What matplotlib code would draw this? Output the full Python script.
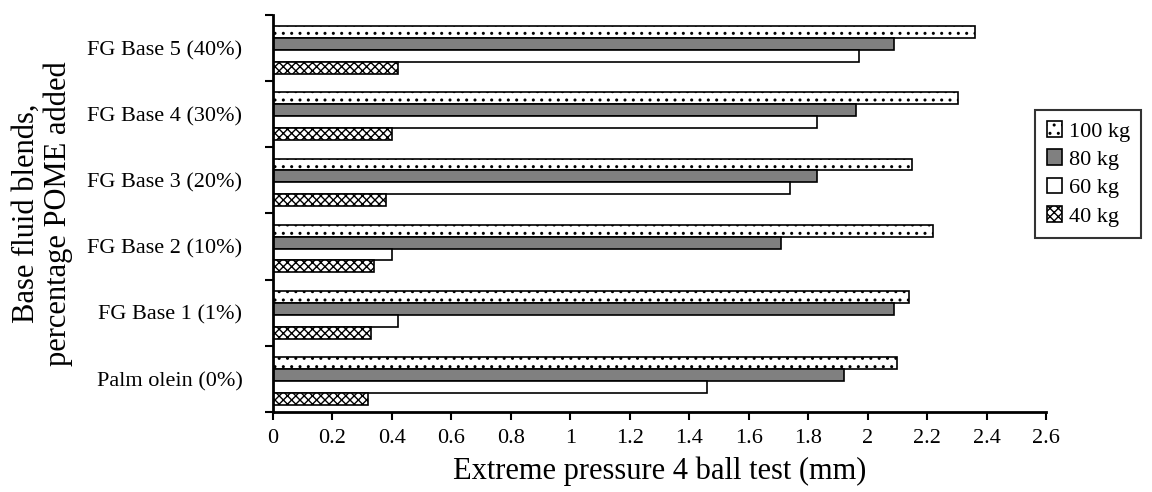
import numpy as np
import matplotlib.pyplot as plt
import matplotlib as mpl

plt.rcParams['font.family'] = ['Liberation Serif', 'DejaVu Serif']
mpl.rcParams['hatch.linewidth'] = 1.0

categories = ["Palm olein (0%)", "FG Base 1 (1%)", "FG Base 2 (10%)",
              "FG Base 3 (20%)", "FG Base 4 (30%)", "FG Base 5 (40%)"]
loads = ["100 kg", "80 kg", "60 kg", "40 kg"]
kg100 = [2.10, 2.14, 2.22, 2.15, 2.305, 2.36]
kg80 = [1.92, 2.09, 1.71, 1.83, 1.96, 2.09]
kg60 = [1.46, 0.42, 0.40, 1.74, 1.83, 1.97]
kg40 = [0.32, 0.33, 0.34, 0.38, 0.40, 0.42]
xticks = [0, 0.2, 0.4, 0.6, 0.8, 1, 1.2, 1.4, 1.6, 1.8, 2, 2.2, 2.4, 2.6]

fig = plt.figure(figsize=(11.52, 4.92), dpi=100)
ax = fig.add_axes([0.237, 0.1626, 0.671, 0.807])

y = np.arange(len(categories))
h = 0.18
styles = [dict(facecolor="white", hatch=". ."),
          dict(facecolor="#808080"),
          dict(facecolor="white"),
          dict(facecolor="white", hatch="xxxx")]
series = [kg100, kg80, kg60, kg40]
for i, (vals, st, lab) in enumerate(zip(series, styles, loads)):
    off = (1.5 - i) * h - 0.03
    ax.barh(y + off, vals, height=h, edgecolor="black", linewidth=1.2,
            label=lab, **st)

ax.set_xlim(0, 2.6)
ax.set_ylim(-0.5, len(categories) - 0.5)
ax.set_xticks(xticks)
ax.set_xticklabels([f"{t:g}" for t in xticks], fontsize=16)
ax.set_yticks(y)
ax.set_yticklabels(categories, fontsize=16)
ax.tick_params(axis="y", which="major", length=0, pad=22)
ax.set_yticks(np.arange(-0.5, len(categories)), minor=True)
ax.tick_params(axis="y", which="minor", length=6, width=1.5)
ax.tick_params(axis="x", length=6, width=1.5, pad=6)
for s in ["top", "right"]:
    ax.spines[s].set_visible(False)
for s in ["left", "bottom"]:
    ax.spines[s].set_linewidth(2)

ax.set_xlabel("Extreme pressure 4 ball test (mm)", fontsize=22, labelpad=6)
ax.set_ylabel("Base fluid blends,\npercentage POME added", fontsize=22,
              labelpad=10, linespacing=1.15)

leg = ax.legend(loc="center left", bbox_to_anchor=(0.972, 0.6), fontsize=16,
                frameon=True, fancybox=False, edgecolor="black",
                handlelength=0.7, handleheight=0.7, handletextpad=0.3,
                borderpad=0.5, labelspacing=0.35)
leg.get_frame().set_linewidth(1.5)

fig.savefig("out.png", dpi=100)
